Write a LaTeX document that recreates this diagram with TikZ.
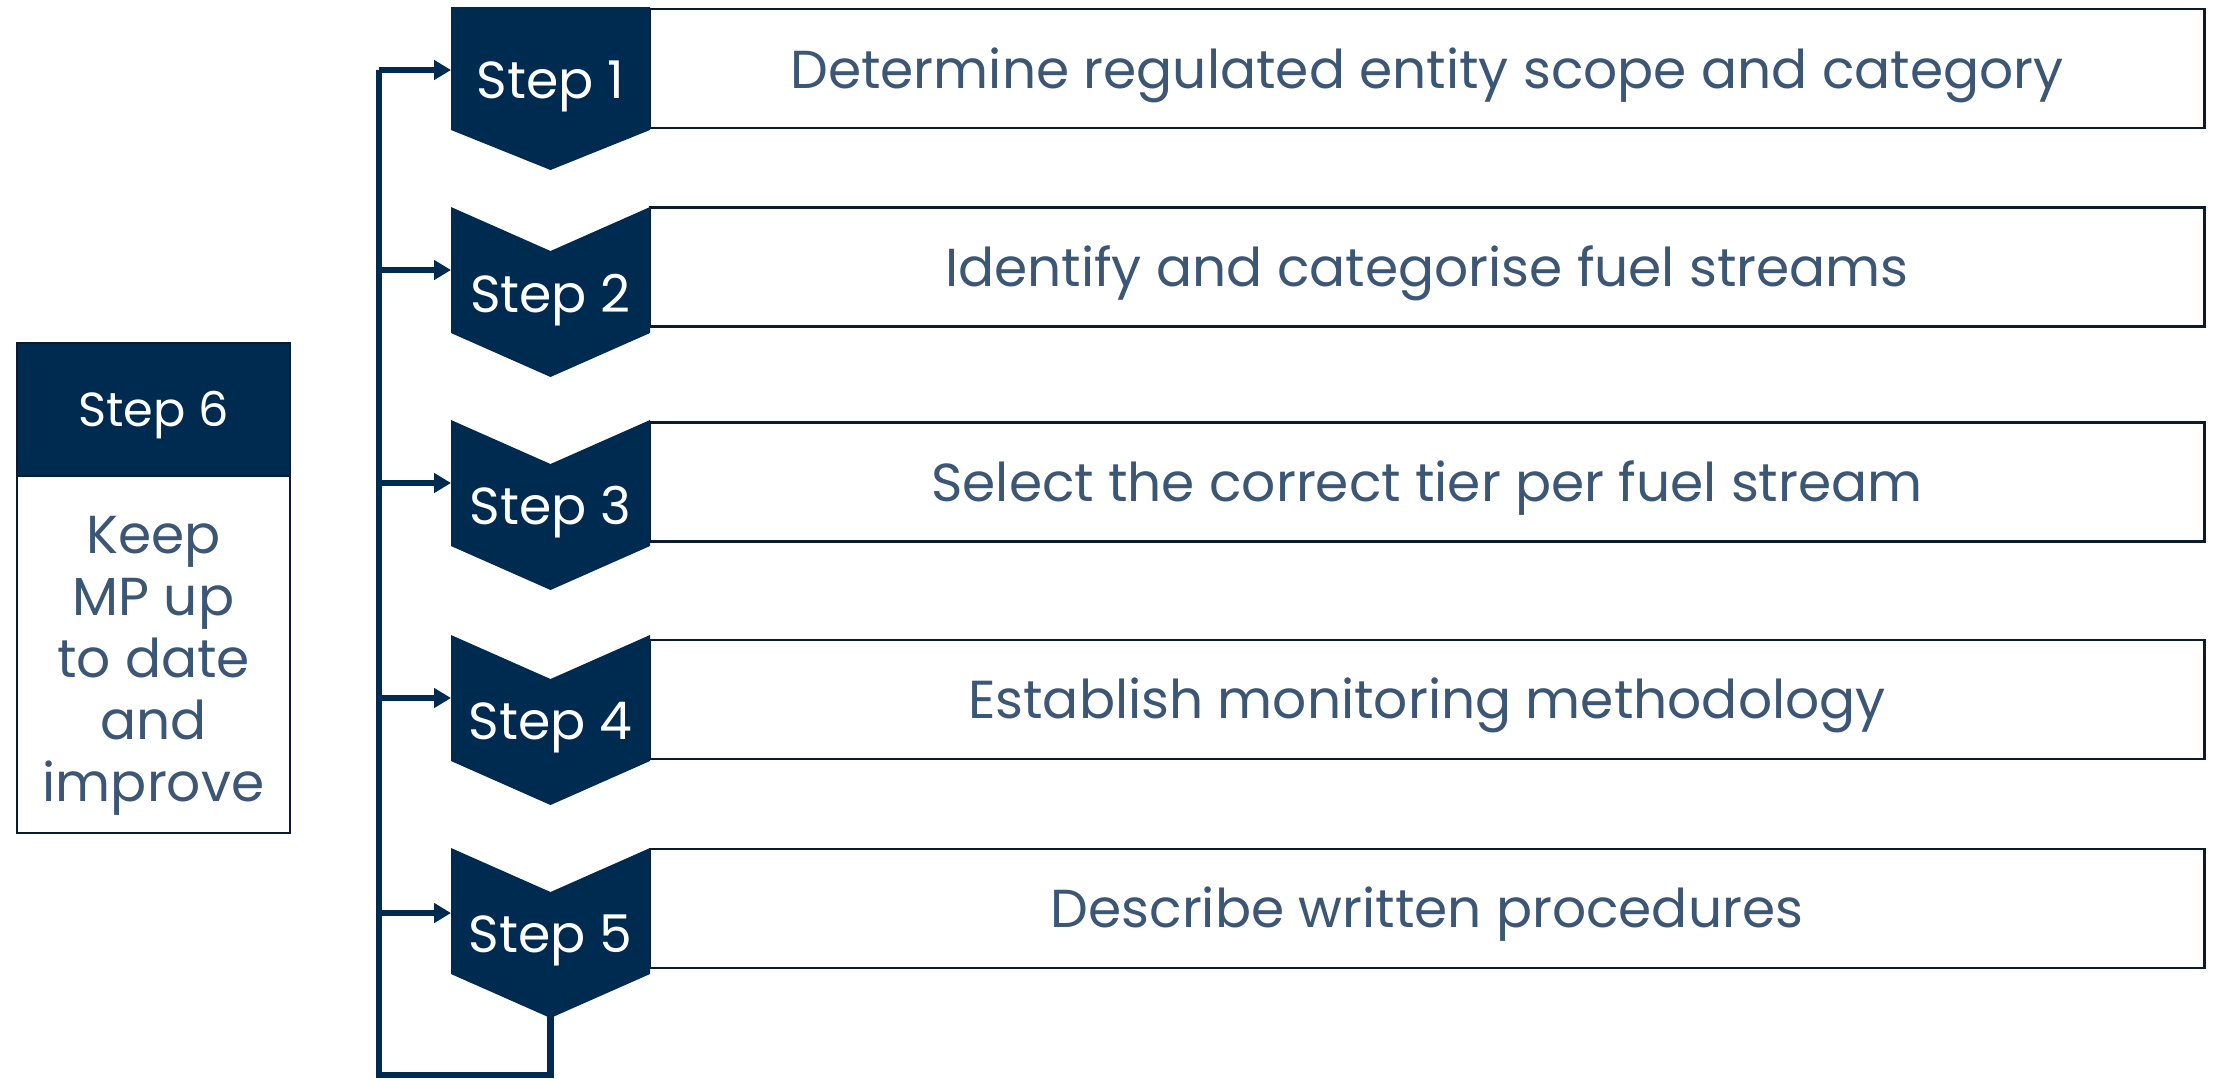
\documentclass[tikz,border=0pt]{standalone}
\usepackage{fontspec}
\setmainfont{Poppins}
\usetikzlibrary{arrows.meta,calc}
\definecolor{navy}{HTML}{002B51}
\definecolor{txt}{HTML}{3C5675}
\definecolor{edge}{HTML}{0B1A2E}
\begin{document}
\begin{tikzpicture}[x=0.01cm,y=-0.01cm,
  chev/.style={fill=navy,draw=none},
  steplabel/.style={text=white,font=\fontsize{14.8}{17}\selectfont,inner sep=0pt,anchor=base},
  desc/.style={draw=edge,line width=0.6pt,fill=white,minimum width=15.54cm,minimum height=1.19cm,inner sep=0pt},
  desctext/.style={text=txt,font=\fontsize{15.2}{18}\selectfont,inner sep=0pt,anchor=base},
  link/.style={draw=navy,line width=1.8pt},
  arr/.style={link,-{Triangle[length=4.8pt,width=5.4pt]}}]
\useasboundingbox (0,0) rectangle (2216,1078);

% description boxes
\node[desc] (r1) at (1427,68.5) {};
\node[desc] (r2) at (1427,267) {};
\node[desc] (r3) at (1427,482) {};
\node[desc] (r4) at (1427,699.5) {};
\node[desc] (r5) at (1427,908.5) {};
\node[desctext] (t1) at (1427,88) {Determine regulated entity scope and category};
\node[desctext] (t2) at (1427,286) {Identify and categorise fuel streams};
\node[desctext] (t3) at (1427,501) {Select the correct tier per fuel stream};
\node[desctext] (t4) at (1427,718.5) {Establish monitoring methodology};
\node[desctext] (t5) at (1427,927.5) {Describe written procedures};

% chevrons
\fill[chev] (451,7) -- (650,7) -- (650,130) -- (550.5,170) -- (451,130) -- cycle;
\fill[chev] (451,207) -- (550.5,251) -- (650,207) -- (650,333) -- (550.5,377) -- (451,333) -- cycle;
\fill[chev] (451,420) -- (550.5,464) -- (650,420) -- (650,546) -- (550.5,590) -- (451,546) -- cycle;
\fill[chev] (451,635) -- (550.5,679) -- (650,635) -- (650,761) -- (550.5,805) -- (451,761) -- cycle;
\fill[chev] (451,848) -- (550.5,892) -- (650,848) -- (650,974) -- (550.5,1018) -- (451,974) -- cycle;

\node[steplabel] (s1) at (550.5,98) {Step 1};
\node[steplabel] (s2) at (550.5,312) {Step 2};
\node[steplabel] (s3) at (550.5,524) {Step 3};
\node[steplabel] (s4) at (550.5,739) {Step 4};
\node[steplabel] (s5) at (550.5,952) {Step 5};

% connector points
\coordinate (in1) at (451,70);
\coordinate (in2) at (451,270);
\coordinate (in3) at (451,483);
\coordinate (in4) at (451,698);
\coordinate (in5) at (451,913);
\coordinate (b1) at (379,70);
\coordinate (b2) at (379,270);
\coordinate (b3) at (379,483);
\coordinate (b4) at (379,698);
\coordinate (b5) at (379,913);
\coordinate (tip5) at (550.5,1016);
\coordinate (lowR) at (550.5,1075);
\coordinate (lowL) at (379,1075);

% feedback loop
\draw[link,line join=miter] (tip5) -- (lowR) -- (lowL) -- (b1);
\draw[arr] (b1) -- (in1);
\draw[arr] (b2) -- (in2);
\draw[arr] (b3) -- (in3);
\draw[arr] (b4) -- (in4);
\draw[arr] (b5) -- (in5);

% step 6
\node[fill=navy,draw=edge,line width=0.7pt,minimum width=2.73cm,minimum height=1.33cm,inner sep=0pt] (h6) at (153.5,409.5) {};
\node[text=white,font=\fontsize{13.6}{16}\selectfont,inner sep=0pt,anchor=base] (h6t) at (153.5,426.5) {Step 6};
\node[draw=edge,line width=0.7pt,minimum width=2.73cm,minimum height=3.57cm,inner sep=0pt] (b6) at (153.5,654.5) {};
\node[text=txt,align=center,inner sep=0pt,font=\fontsize{15.2}{17.6}\selectfont] (b6t) at (153.5,666)
      {Keep\\MP up\\to date\\and\\improve};
\end{tikzpicture}
\end{document}
